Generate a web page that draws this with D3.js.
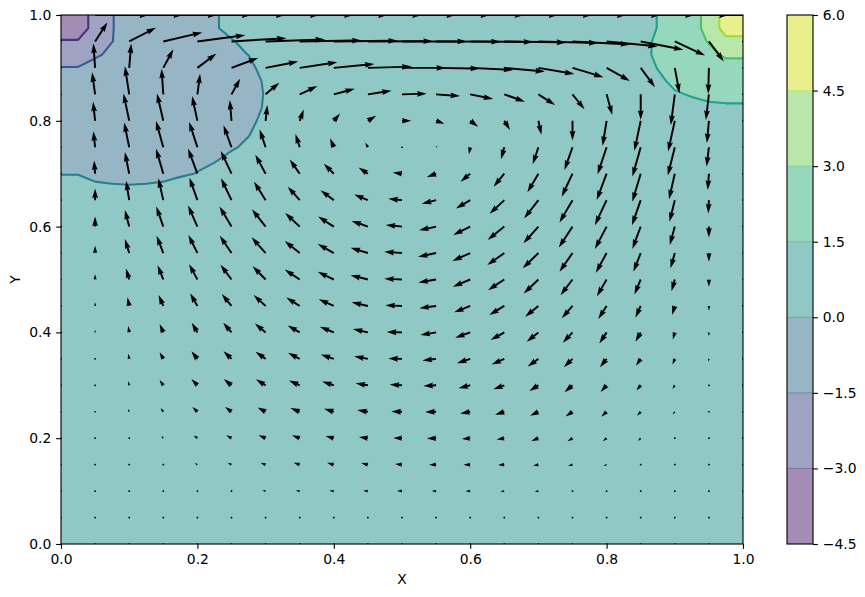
<!DOCTYPE html>
<html>
<head>
<meta charset="utf-8">
<script src="https://cdn.jsdelivr.net/npm/d3@7"></script>
<style>
html,body{margin:0;padding:0;background:#fff;}
svg{display:block;}
text{font-family:"DejaVu Sans",sans-serif;font-size:13.9px;fill:#000;}
</style>
</head>
<body>
<svg id="chart" width="865" height="597"></svg>
<script>
// ---------- data ----------
const axisTicks = [0, 0.2, 0.4, 0.6, 0.8, 1.0];
const levels = [-4.5, -3, -1.5, 0, 1.5, 3, 4.5, 6];
const lineLevels = [-3, -1.5, 0, 1.5, 3, 4.5];
const xLabel = "X", yLabel = "Y";

// pressure on a 41x41 grid (step 0.025): background value plus two corner patches
const pressureBackground = 0.75;
// top-left patch: rows y = 1.0 ... 0.675, columns x = 0 ... 0.325
const pressureTopLeft = [
 [-3.9,-3.9,-2.4,-1.51,-1.4,-1.2,-1,-.8,-.55,-.275,.75,.75,.75,.75],
 [-3.9,-3.9,-2.4,-1.51,-1.4,-1.2,-1,-.8,-.55,-.275,.75,.75,.75,.75],
 [-2.88,-2.88,-2.1,-1.51,-1.3,-1.15,-1,-.85,-.65,-.4,-.21,.75,.75,.75],
 [-2,-2,-1.62,-1.33,-1.2,-1.1,-.95,-.8,-.65,-.5,-.31,.02,.75,.75],
 [-1.46,-1.46,-1.2,-1.1,-1.05,-.98,-.9,-.8,-.7,-.6,-.5,-.43,.6,.75],
 [-1.3,-1.25,-1.1,-1.05,-1,-.95,-.88,-.8,-.7,-.6,-.5,-.32,.1,.75],
 [-1.2,-1.18,-1.08,-1.02,-.97,-.92,-.87,-.8,-.7,-.6,-.46,-.307,.05,.75],
 [-1.1,-1.1,-1.02,-.98,-.95,-.9,-.85,-.78,-.68,-.56,-.42,-.213,.06,.75],
 [-1,-1,-.95,-.92,-.9,-.85,-.8,-.72,-.62,-.5,-.4,-.37,.4,.75],
 [-.9,-.9,-.9,-.88,-.85,-.8,-.75,-.65,-.55,-.42,-.25,-.067,.6,.75],
 [-.75,-.8,-.8,-.8,-.8,-.75,-.65,-.55,-.42,-.3,-.153,.25,.75,.75],
 [-.5,-.55,-.65,-.7,-.7,-.65,-.55,-.4,-.21,-.1,.4,.75,.75,.75],
 [-.065,-.065,-.3,-.63,-.525,-.475,-.375,-.158,.04,.5,.75,.75,.75,.75],
 [.75,.75,.2,.2,.1,.15,.25,.5,.7,.75,.75,.75,.75,.75]
];
// top-right patch: rows y = 1.0 ... 0.825, columns x = 0.85 ... 1.0
const pressureTopRight = [
 [.75,1.55,1.75,1.96,3.9,4.88,4.88],
 [.75,1.55,1.75,1.96,3.9,4.88,4.88],
 [.75,1.886,2.1,2.3,3.106,4.25,4.25],
 [.75,1.96,2.1,2.3,2.576,3.255,3.255],
 [.75,1.55,1.9,2.2,2.3,2.344,2.344],
 [.75,1.15,1.85,2.1,2.3,2.3,2.3],
 [.75,.9,1.335,1.61,2.1,2.2,2.2],
 [.75,.75,.8,1.06,1.03,1.17,1.17]
];

// velocity at interior points: rows y = 0.95 ... 0.05, columns x = 0.05 ... 0.95
const lidSpeed = 54;
const velocityU = [
 [12.3,26.7,39,48,55,59.4,62,64,65,65,64.7,63,62,60,57.7,51,42.7,30.3,15],
 [-1.7,2,10,19,26.7,32.7,37.7,40.7,43.7,44,44,43,40.7,36,31,23.3,14.3,4.7,-.7],
 [-3,-4.3,-1.7,2.7,8.7,13.7,17.7,21,23.7,24.7,24,23,20.7,16.7,12,5.7,0,-4,-3],
 [-2,-5.7,-6.3,-5.3,-1.7,1.7,4,6.3,8.3,9.3,8.3,8,5.7,3,0,-4,-6.3,-6.7,-2],
 [-1.7,-5,-7.3,-8.3,-8,-6,-4.3,-3.7,-2.7,0,1.5,-1.3,-3.3,-5.7,-8,-9,-8.3,-7,-2.3],
 [-1,-4.3,-7.3,-9.3,-10.7,-10.3,-10,-10,-9.3,-9.3,-9.3,-9.7,-10.7,-11,-10.8,-9.9,-8.4,-5.8,-1.2],
 [0,-3.1,-5,-8,-10.5,-11.6,-12,-13.3,-13.7,-13.7,-14.3,-14.3,-14.7,-14.3,-13,-11.7,-8.7,-5.3,-.7],
 [0,-4.3,-7,-9.3,-12,-13.7,-14.5,-15.7,-16.3,-16.3,-17,-17,-16.7,-15,-13.7,-11.7,-8.3,-5,0],
 [0,-4.3,-6.7,-9,-11.7,-14,-15,-16,-17.3,-17.7,-18,-17.7,-17,-15.7,-13,-10.7,-7.3,-4.3,0],
 [0,-3.3,-5.7,-8.3,-11,-13,-15,-16,-17.3,-17.7,-17.7,-17.3,-16.3,-14.7,-12,-9.7,-6.3,-3.3,0],
 [0,-1.7,-4.7,-7.3,-9.7,-12,-13.5,-15,-16.3,-16.7,-16.7,-16,-15,-13.3,-10.7,-8.3,-5.3,-2.7,0],
 [0,-1,-3.7,-5.7,-8.3,-10.7,-12,-14,-15,-15.3,-15.7,-15,-13.7,-11.7,-9.7,-7.3,-5.3,-2,0],
 [0,-1,-3.7,-6,-8,-10,-11.7,-13,-13.7,-13.7,-13.7,-13.3,-12.7,-10.7,-8.7,-6.7,-4.7,-2.3,-.3],
 [0,-1,-3.7,-6,-7.7,-9.7,-10.7,-11.7,-12.3,-12.3,-12.7,-11.7,-11,-9,-8,-6,-4.3,-2.3,0],
 [0,-1.3,-2.7,-5,-6.3,-8,-9.3,-9.7,-10.7,-10.7,-11,-10,-9.3,-8.3,-7,-5.3,-3.7,-2,0],
 [0,-.5,-2,-3.7,-5.3,-7,-7.7,-8.3,-9,-8.7,-9.3,-8.3,-7.7,-7,-5,-3.7,-2.7,-.7,0],
 [0,0,-1,-2.7,-3.7,-5,-6,-6.7,-6.7,-7,-7,-6.7,-6.3,-5.3,-4.3,-3,-1,0,0],
 [0,0,0,-1,-1.5,-3.3,-4,-4.3,-4.7,-5,-4.3,-4.7,-4,-3.7,-1.7,-1,0,0,0],
 [0,0,0,0,0,0,0,-.5,-1.3,-1.5,-1.5,-1.5,-1.3,-.5,0,0,0,0,0]
];
const velocityV = [
 [19,13.7,9,6.3,3.3,2,1,.7,.3,0,-.2,-.5,-1,-1.5,-3,-5,-8.3,-14,-20],
 [24.3,24.3,18.7,14.3,10,6.3,5.7,4,1.3,0,-.7,-2,-3.7,-6,-9.3,-13,-19.3,-25.3,-26],
 [22,28,25.7,20.7,15.7,11.7,8.3,5.7,3.7,.7,-1.7,-4.7,-7.3,-10.7,-15,-20.7,-25.7,-30.7,-25.7],
 [19,27.3,27.3,24.7,20.7,15.7,11.3,7.3,5,0,-3,-6,-9.3,-14,-19.7,-25,-30,-30.7,-22.3],
 [16,24.7,26.3,25.3,22,17.7,13.3,9,4.7,.2,1.3,-7,-12,-17,-22.7,-27,-29.3,-28.3,-19.3],
 [13.3,21.7,25,25,22.7,19,14.3,10,6.3,1.3,-3.3,-8,-13,-18.6,-23,-26.3,-28,-25.6,-16.3],
 [11.7,19.5,21.8,22.5,21.8,18.5,13.5,10,5.7,1.3,-3.7,-8.3,-13.7,-18.3,-22.3,-25,-25,-21.7,-13.3],
 [10,16.7,20,21,20,17.3,13.5,10,5.7,1.7,-3.7,-8.3,-13.3,-16.7,-21,-22.3,-22.3,-18.3,-11],
 [7.3,14,17.3,18,17.3,15.7,12,9,5.3,1.3,-3.7,-8,-12,-15.3,-18.7,-19.7,-18.7,-15.3,-8.7],
 [5.3,11,14.3,15.3,14.7,13.3,10,7.7,4.3,.7,-3,-7.3,-10.7,-14,-15.7,-16.7,-15,-11.7,-7.3],
 [3.7,8.7,11,12.7,12,11,8.5,6.7,3.7,.7,-2.3,-6.3,-9,-10.7,-12.3,-13,-11.7,-9,-4.7],
 [2.7,6.3,8.3,9.7,9.7,9,7,5.7,3.3,.3,-2.7,-5.3,-7.7,-9.3,-10.3,-11,-9.3,-7,-3.7],
 [1.5,5,6.7,7.7,7.7,7,6,4.3,2.7,.3,-1.7,-4.3,-5.7,-7.7,-8.3,-8.3,-7,-5.7,-3],
 [.8,4,5.3,6.3,6.3,6,4.7,3.7,2,.7,-.7,-3,-4,-5.7,-7,-6.7,-5.3,-3.7,-1.5],
 [.5,2.7,3.7,4.7,4.7,4.3,3.7,3,1.7,.3,-.3,-1.7,-3,-4,-4.7,-5,-4,-2.7,-.7],
 [.2,.5,2.3,2.7,3,3,3,2.3,1.3,.3,-.3,-.7,-1.3,-2.7,-3,-3,-2.7,-.7,-.2],
 [0,0,.5,1.3,1.7,2,2,2,1.7,.7,0,0,-.3,-1,-1.3,-1.3,-1,0,0],
 [0,0,0,0,.3,.5,.7,.3,.3,0,0,0,-.3,-.5,-.3,-.3,0,0,0],
 [0,0,0,0,0,0,0,0,0,0,0,0,0,0,0,0,0,0,0]
];

// ---------- layout ----------
const plot = {left: 61, right: 743, top: 15, bottom: 544};
const bar = {left: 787, right: 813};
const svg = d3.select("#chart");
const x = d3.scaleLinear().domain([0, 1]).range([plot.left, plot.right]);
const y = d3.scaleLinear().domain([0, 1]).range([plot.bottom, plot.top]);
const cbY = d3.scaleLinear().domain([levels[0], levels[levels.length - 1]]).range([plot.bottom, plot.top]);
const speed = d3.scaleLinear().domain([0, lidSpeed]).range([0, 54]);
const fillT = i => (i + 0.5) / (levels.length - 1);
const lineT = l => (l - levels[0]) / (levels[levels.length - 1] - levels[0]);

svg.append("clipPath").attr("id", "plotClip").append("rect")
  .attr("x", plot.left).attr("y", plot.top)
  .attr("width", plot.right - plot.left).attr("height", plot.bottom - plot.top);

// ---------- pressure grid ----------
const N = 41;
const pressure = new Array(N * N).fill(pressureBackground);
pressureTopLeft.forEach((row, r) => row.forEach((v, c) => { pressure[(N - 1 - r) * N + c] = v; }));
pressureTopRight.forEach((row, r) => row.forEach((v, c) => { pressure[(N - 1 - r) * N + (N - row.length + c)] = v; }));

const toPlot = d3.geoTransform({
  point(px, py) { this.stream.point(x((px - 0.5) / (N - 1)), y((py - 0.5) / (N - 1))); }
});
const geoPath = d3.geoPath(toPlot);
const contourAt = t => d3.contours().size([N, N]).contour(pressure, t);

const plotLayer = svg.append("g").attr("clip-path", "url(#plotClip)");

// filled bands
d3.range(levels.length - 1).forEach(i => {
  const low = geoPath(contourAt(levels[i])) || "";
  const high = geoPath(contourAt(levels[i + 1])) || "";
  plotLayer.append("path")
    .attr("d", low + high)
    .attr("fill-rule", "evenodd")
    .attr("fill", d3.interpolateViridis(fillT(i)))
    .attr("fill-opacity", 0.5);
});
// contour lines
lineLevels.forEach(l => {
  plotLayer.append("path")
    .attr("d", geoPath(contourAt(l)))
    .attr("fill", "none")
    .attr("stroke", d3.interpolateViridis(lineT(l)))
    .attr("stroke-width", 2.08)
    .attr("stroke-linejoin", "round");
});

// ---------- quiver ----------
const gridX = d3.range(21).map(i => i / 20);
const gridY = d3.range(21).map(i => i / 20);
const W = 0.06 * (plot.right - plot.left) / 21;   // shaft width in px
const HL = 5, HAL = 4.5, HW = 3, MINLEN = 1;

function arrowPath(x0, y0, dx, dy) {
  const len = Math.hypot(dx, dy) / W;
  let pts;
  if (len < MINLEN) {
    pts = d3.range(6).map(k => [Math.cos(k * Math.PI / 3) * MINLEN * 0.5, Math.sin(k * Math.PI / 3) * MINLEN * 0.5]);
    pts = pts.map(p => [x0 + p[0] * W, y0 + p[1] * W]);
    return "M" + pts.map(p => p.join(",")).join("L") + "Z";
  }
  let xs, ys;
  if (len < HL) {
    const s = len / HL;
    xs = [0, (HL - HAL) * s, 0, HL * s];
    ys = [0.5 * s, 0.5 * s, 0.5 * HW * s, 0];
  } else {
    xs = [0, len - HAL, len - HL, len];
    ys = [0.5, 0.5, 0.5 * HW, 0];
  }
  const shape = [[xs[0], ys[0]], [xs[1], ys[1]], [xs[2], ys[2]], [xs[3], 0], [xs[2], -ys[2]], [xs[1], -ys[1]], [xs[0], -ys[0]]];
  const ca = dx / (len * W), sa = dy / (len * W);
  pts = shape.map(p => [x0 + W * (p[0] * ca - p[1] * sa), y0 + W * (p[0] * sa + p[1] * ca)]);
  return "M" + pts.map(p => p[0].toFixed(2) + "," + p[1].toFixed(2)).join("L") + "Z";
}

const arrows = [];
gridY.forEach((gy, j) => gridX.forEach((gx, i) => {
  let u = 0, v = 0;
  const inner = i > 0 && i < 20;
  if (j === 20 && inner) u = lidSpeed;
  else if (j > 0 && j < 20 && inner) {
    u = velocityU[19 - j][i - 1];
    v = velocityV[19 - j][i - 1];
  }
  arrows.push({gx, gy, u, v});
}));
plotLayer.append("g").selectAll("path").data(arrows).join("path")
  .attr("d", d => arrowPath(x(d.gx), y(d.gy), speed(d.u), -speed(d.v)))
  .attr("fill", "#000");

// ---------- axes ----------
function styleAxis(g) {
  g.selectAll("line").attr("stroke", "#000").attr("stroke-width", 1.11);
  g.selectAll(".domain").remove();
  g.selectAll("text").attr("fill", "#000");
  g.attr("font-family", null).attr("font-size", null);
}
const fmt = d => d3.format(".1f")(d).replace("-", "\u2212");
svg.append("g").attr("transform", `translate(0,${plot.bottom})`)
  .call(d3.axisBottom(x).tickValues(axisTicks).tickFormat(fmt).tickSize(4.86).tickPadding(4.9))
  .call(styleAxis);
svg.append("g").attr("transform", `translate(${plot.left},0)`)
  .call(d3.axisLeft(y).tickValues(axisTicks).tickFormat(fmt).tickSize(4.86).tickPadding(4.9))
  .call(styleAxis);
svg.append("rect")
  .attr("x", plot.left).attr("y", plot.top)
  .attr("width", plot.right - plot.left).attr("height", plot.bottom - plot.top)
  .attr("fill", "none").attr("stroke", "#000").attr("stroke-width", 1.11);

svg.append("text").attr("x", (plot.left + plot.right) / 2).attr("y", 584)
  .attr("text-anchor", "middle").text(xLabel);
svg.append("text").attr("transform", `translate(20,${(plot.top + plot.bottom) / 2}) rotate(-90)`)
  .attr("text-anchor", "middle").text(yLabel);

// ---------- colorbar ----------
const cb = svg.append("g");
d3.range(levels.length - 1).forEach(i => {
  cb.append("rect")
    .attr("x", bar.left).attr("width", bar.right - bar.left)
    .attr("y", cbY(levels[i + 1])).attr("height", cbY(levels[i]) - cbY(levels[i + 1]))
    .attr("fill", d3.interpolateViridis(fillT(i))).attr("fill-opacity", 0.5);
});
lineLevels.forEach(l => {
  cb.append("line")
    .attr("x1", bar.left).attr("x2", bar.right)
    .attr("y1", cbY(l)).attr("y2", cbY(l))
    .attr("stroke", d3.interpolateViridis(lineT(l)))
    .attr("stroke-opacity", 0.55).attr("stroke-width", 0.8);
});
svg.append("g").attr("transform", `translate(${bar.right},0)`)
  .call(d3.axisRight(cbY).tickValues(levels).tickFormat(fmt).tickSize(4.86).tickPadding(4.9))
  .call(styleAxis);
cb.append("rect")
  .attr("x", bar.left).attr("y", plot.top)
  .attr("width", bar.right - bar.left).attr("height", plot.bottom - plot.top)
  .attr("fill", "none").attr("stroke", "#000").attr("stroke-width", 1.11);
</script>
</body>
</html>
